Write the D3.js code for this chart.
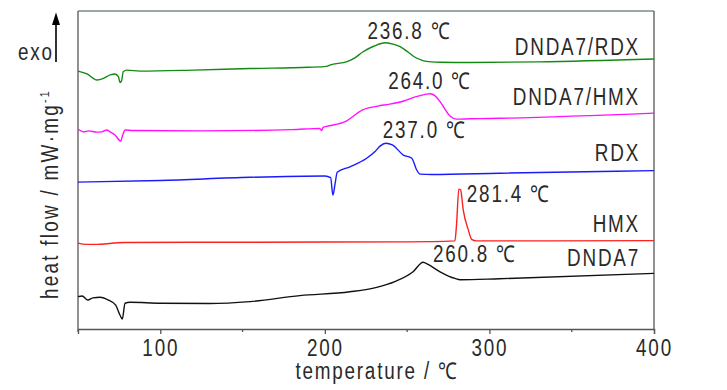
<!DOCTYPE html>
<html><head><meta charset="utf-8">
<script src="https://cdn.jsdelivr.net/npm/d3@7"></script>
<style>
body{margin:0;background:#fff;}
text{font-family:"Liberation Sans",Arial,sans-serif;fill:#2a2a2a;}
</style></head><body>
<svg id="c" width="727" height="390"></svg>
<script>
// ---- data (temperature in °C, heat flow in arbitrary offset units) ----
const seriesNames = ["DNDA7/RDX","DNDA7/HMX","RDX","HMX","DNDA7"];
const seriesColors = ["#138a13","#ff10ff","#1a1aff","#ff2020","#111111"];

const tRDXmix = [50,55.5,61.5,65.5,69.6,72.5,74.6,75.5,76.5,77.5,79.6,87.7,120,154.5,190,201,203,213.5,218,223,230,236.8,242,246,250,254,259.6,265,270,288,330,400];
const hRDXmix = [8.11,8.02,7.83,7.88,7.99,8.02,7.93,7.75,7.81,8.09,8.14,8.11,8.14,8.19,8.23,8.26,8.30,8.41,8.52,8.71,8.90,9.00,8.95,8.87,8.73,8.57,8.44,8.40,8.39,8.38,8.40,8.49];

const tHMXmix = [50,53.4,56.4,61.5,64.5,67.5,69.5,72.5,75.9,77.2,78.6,83.6,124.2,180,197,198,199,201,212,223,232,239.4,248,255,261,264,267,270,276,280,288,300,400];
const hHMXmix = [6.28,6.20,6.23,6.19,6.20,6.26,6.20,6.10,5.91,6.10,6.26,6.24,6.23,6.27,6.31,6.24,6.34,6.37,6.51,6.89,7.01,7.07,7.17,7.30,7.38,7.40,7.33,7.15,6.70,6.60,6.61,6.62,6.79];

const tRDX = [50,100,154.5,200,203.5,204.9,206.2,207.5,215.3,225.4,230.5,233.5,237,241,247.7,252.8,255.8,257.8,265,306,400];
const hRDX = [4.62,4.67,4.77,4.81,4.76,4.21,4.56,4.93,5.10,5.37,5.58,5.75,5.84,5.79,5.47,5.37,5.00,4.87,4.86,4.90,4.98];

const tHMX = [50,55,60,78,154.5,250,279,280,281.4,282.5,284.1,287.2,289.2,292,400];
const hHMX = [2.70,2.66,2.66,2.72,2.73,2.74,2.77,3.27,4.40,4.37,3.74,3.11,2.82,2.77,2.78];

const tDNDA7 = [50,52.5,56,59,63.5,68.5,72.9,75.5,76.9,78.6,81.6,100,130,154.5,184.8,215.2,231.5,242.5,253.6,259.7,262.7,270,279.1,282.2,306,400];
const hDNDA7 = [1.02,1.04,0.91,0.98,1.00,0.91,0.75,0.44,0.31,0.81,0.84,0.81,0.80,0.86,1.05,1.17,1.31,1.49,1.80,2.10,2.03,1.80,1.59,1.55,1.58,1.75];

const peakTemps = [236.8,264.0,237.0,281.4,260.8];
const peakValues = [9.00,7.40,5.84,4.40,2.10];
const peakLabels = ["236.8 ℃","264.0 ℃","237.0 ℃","281.4 ℃","260.8 ℃"];

const majorTicks = [100,200,300,400];
const minorTicks = [50,150,250,350];
const xTitle = "temperature / ℃";
const yTitle = "heat flow / mW·mg";
const yTitleSup = "-1";
const exoLabel = "exo";

// ---- layout ----
const L=78,R=654,T=11,B=329;
const svg=d3.select("#c");
const x=d3.scaleLinear().domain([50,400]).range([L,R]);
const y=d3.scaleLinear().domain([0,10]).range([B,T]);

const series=[[tRDXmix,hRDXmix],[tHMXmix,hHMXmix],[tRDX,hRDX],[tHMX,hHMX],[tDNDA7,hDNDA7]];
const line=d3.line().x(d=>x(d[0])).y(d=>y(d[1])).curve(d3.curveMonotoneX);

const FS=23, SX=0.82, LS=2.2;
function txt(px,py,s,anchor,extra){
  return svg.append("text").attr("transform",`translate(${px},${py})${extra||""} scale(${SX},1)`)
    .attr("text-anchor",anchor||"start").attr("font-size",FS).attr("letter-spacing",LS).text(s);
}

// frame
svg.append("line").attr("x1",L).attr("x2",R).attr("y1",T).attr("y2",T).attr("stroke","#7d8c8c").attr("stroke-width",1.3);
svg.append("line").attr("x1",R).attr("x2",R).attr("y1",T).attr("y2",B).attr("stroke","#555").attr("stroke-width",1.3);
svg.append("line").attr("x1",L).attr("x2",L).attr("y1",T).attr("y2",B).attr("stroke","#555").attr("stroke-width",1.3);

// curves
series.forEach((s,i)=>{
  const pts=s[0].map((t,j)=>[t,s[1][j]]);
  svg.append("path").attr("d",line(pts)).attr("fill","none").attr("stroke",seriesColors[i]).attr("stroke-width",1.4);
});

// x axis
const ax=svg.append("g").attr("transform",`translate(0,${B})`)
  .call(d3.axisBottom(x).tickValues(majorTicks).tickSize(5).tickPadding(6).tickFormat(d3.format("d")));
ax.select(".domain").attr("stroke","#555").attr("stroke-width",1.3);
ax.selectAll(".tick line").attr("stroke","#555").attr("stroke-width",1.3);
ax.selectAll(".tick text").attr("font-size",FS).attr("letter-spacing",LS).attr("fill","#2a2a2a")
  .attr("font-family",'"Liberation Sans",Arial,sans-serif').attr("transform",`scale(${SX},1)`);
svg.append("g").selectAll("line").data(minorTicks).join("line")
  .attr("x1",d=>x(d)).attr("x2",d=>x(d)).attr("y1",B).attr("y2",B+3).attr("stroke","#555").attr("stroke-width",1.3);

// titles
txt(377,379,xTitle,"middle");
const yt=svg.append("text").attr("transform",`translate(58,194) rotate(-90) scale(${SX},1)`)
  .attr("text-anchor","middle").attr("font-size",FS).attr("letter-spacing",2.8);
yt.append("tspan").text(yTitle);
yt.append("tspan").attr("dy",-9).attr("font-size",13).text(yTitleSup);

// exo arrow
txt(18,60,exoLabel,"start");
svg.append("line").attr("x1",56).attr("x2",56).attr("y1",62).attr("y2",22).attr("stroke","#000").attr("stroke-width",1.6);
svg.append("path").attr("d",d3.line()([[52,25],[56,12.5],[60,25]])+"Z").attr("fill","#000");

// peak labels
const peakOffsets=[[-18,-3.5],[-42,-4.5],[-3,-5],[8,12.5],[8,0]];
peakLabels.forEach((lab,i)=>{
  txt(x(peakTemps[i])+peakOffsets[i][0], y(peakValues[i])+peakOffsets[i][1], lab, "start");
});

// series labels
const nameDy=[-4,-8,-10,-9,-7.6];
seriesNames.forEach((n,i)=>{
  const s=series[i];
  txt(640, y(s[1][s[1].length-1])+nameDy[i], n, "end");
});
</script></body></html>
